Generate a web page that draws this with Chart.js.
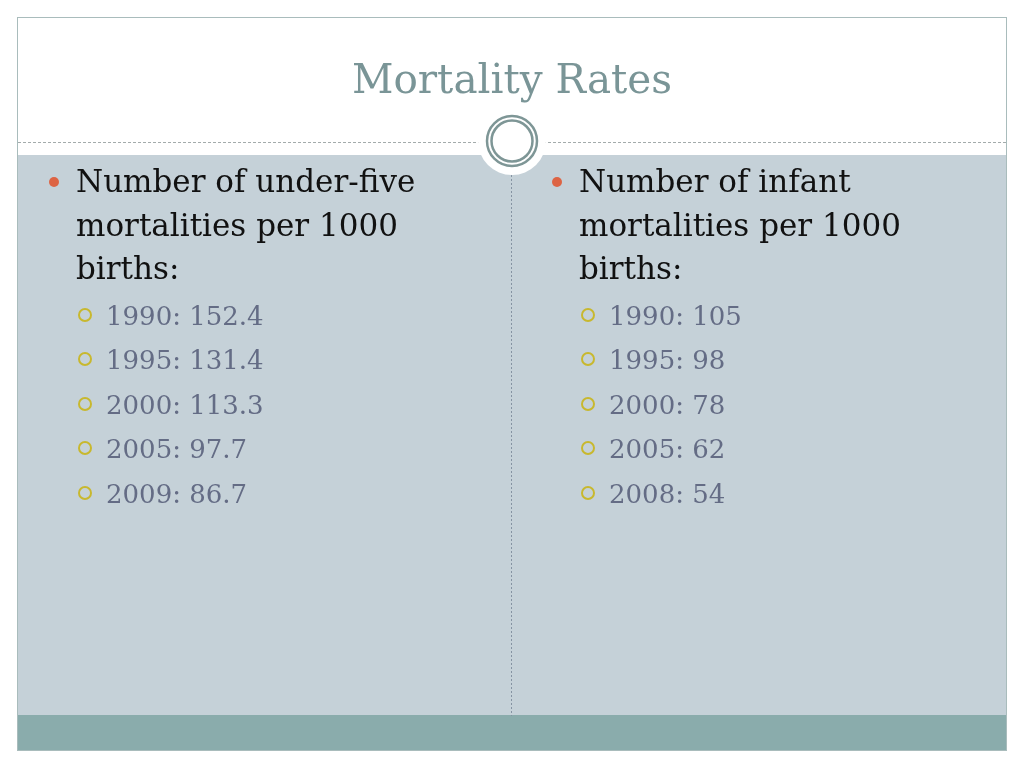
<!DOCTYPE html>
<html>
<head>
<meta charset="utf-8">
<title>Mortality Rates</title>
<script src="https://cdn.jsdelivr.net/npm/chart.js@4.4.1/dist/chart.umd.min.js"></script>
<style>
  html, body { margin: 0; padding: 0; background: #fff; }
  #stage { position: relative; width: 1024px; height: 768px; overflow: hidden; }
  #frame { position: absolute; left: 0; top: 0; }
  #title {
    position: absolute; left: 0; width: 1024px; top: 53px;
    text-align: center; font-family: "DejaVu Serif", serif;
    font-size: 40.5px; line-height: 52px; color: #7a9597;
  }
  .col { position: absolute; top: 160px; width: 430px; font-family: "DejaVu Serif", serif; }
  .head { position: relative; font-size: 31px; line-height: 43.5px; color: #111; white-space: pre-line; }
  .head::before {
    content: ""; position: absolute; left: -27px; top: 17px;
    width: 10px; height: 10px; border-radius: 50%; background: #dd6444;
  }
  .items { margin: 3px 0 0 30px; padding: 0; list-style: none; }
  .items li { position: relative; font-size: 26px; line-height: 44.5px; color: #646c85; }
  .items li::before {
    content: ""; position: absolute; left: -28px; top: 14px;
    width: 10px; height: 10px; border-radius: 50%; border: 2px solid #c8b82e;
  }
</style>
</head>
<body>
<div id="stage">
  <canvas id="frame" width="1024" height="768"></canvas>
  <div id="title"></div>
  <div class="col" id="colLeft" style="left:76px"></div>
  <div class="col" id="colRight" style="left:579px"></div>
</div>
<script>
// slide text
const slideTitle = 'Mortality Rates';

// under-five mortality per 1000 births
const underFiveLabel = 'Number of under-five\nmortalities per 1000\nbirths:';
const underFiveYears = [1990, 1995, 2000, 2005, 2009];
const underFiveValues = ['152.4', '131.4', '113.3', '97.7', '86.7'];

// infant mortality per 1000 births
const infantLabel = 'Number of infant\nmortalities per 1000\nbirths:';
const infantYears = [1990, 1995, 2000, 2005, 2008];
const infantValues = ['105', '98', '78', '62', '54'];

document.getElementById('title').textContent = slideTitle;

function fillColumn(el, label, years, values) {
    const head = document.createElement('div');
    head.className = 'head';
    head.textContent = label;
    el.appendChild(head);

    const list = document.createElement('ul');
    list.className = 'items';
    years.forEach((yr, i) => {
        const li = document.createElement('li');
        li.textContent = `${yr}: ${values[i]}`;
        list.appendChild(li);
    });
    el.appendChild(list);
}

fillColumn(document.getElementById('colLeft'), underFiveLabel, underFiveYears, underFiveValues);
fillColumn(document.getElementById('colRight'), infantLabel, infantYears, infantValues);

// slide background (bands, divider, ornament) painted by a chart plugin
const slideFrame = {
    id: 'slideFrame',
    beforeDraw(chart) {
        const ctx = chart.ctx;
        ctx.save();
        ctx.fillStyle = '#ffffff';
        ctx.fillRect(0, 0, 1024, 768);

        // content panel + footer band
        ctx.fillStyle = '#c5d1d8';
        ctx.fillRect(17, 155, 989, 560);
        ctx.fillStyle = '#8aacac';
        ctx.fillRect(17, 715, 989, 35);

        // outer border
        ctx.strokeStyle = '#a9bcbc';
        ctx.lineWidth = 1;
        ctx.strokeRect(17.5, 17.5, 989, 733);

        // dashed header rule
        ctx.strokeStyle = '#a3abab';
        ctx.setLineDash([3, 2]);
        ctx.beginPath();
        ctx.moveTo(18, 142.5);
        ctx.lineTo(1006, 142.5);
        ctx.stroke();

        // dotted column divider
        ctx.strokeStyle = '#8593a2';
        ctx.setLineDash([2, 2]);
        ctx.beginPath();
        ctx.moveTo(511.5, 175);
        ctx.lineTo(511.5, 716);
        ctx.stroke();
        ctx.setLineDash([]);

        // ornament
        ctx.fillStyle = '#ffffff';
        ctx.beginPath();
        ctx.arc(512, 141, 34, 0, Math.PI * 2);
        ctx.fill();
        ctx.strokeStyle = '#7e9696';
        ctx.lineWidth = 2.5;
        ctx.beginPath();
        ctx.arc(512, 141, 25, 0, Math.PI * 2);
        ctx.stroke();
        ctx.beginPath();
        ctx.arc(512, 141, 20.5, 0, Math.PI * 2);
        ctx.stroke();
        ctx.restore();
    }
};

new Chart(document.getElementById('frame'), {
    type: 'bar',
    data: { labels: [], datasets: [] },
    options: {
        responsive: false,
        animation: false,
        devicePixelRatio: 1,
        plugins: { legend: { display: false }, tooltip: { enabled: false } },
        scales: { x: { display: false }, y: { display: false } }
    },
    plugins: [slideFrame]
});
</script>
</body>
</html>
